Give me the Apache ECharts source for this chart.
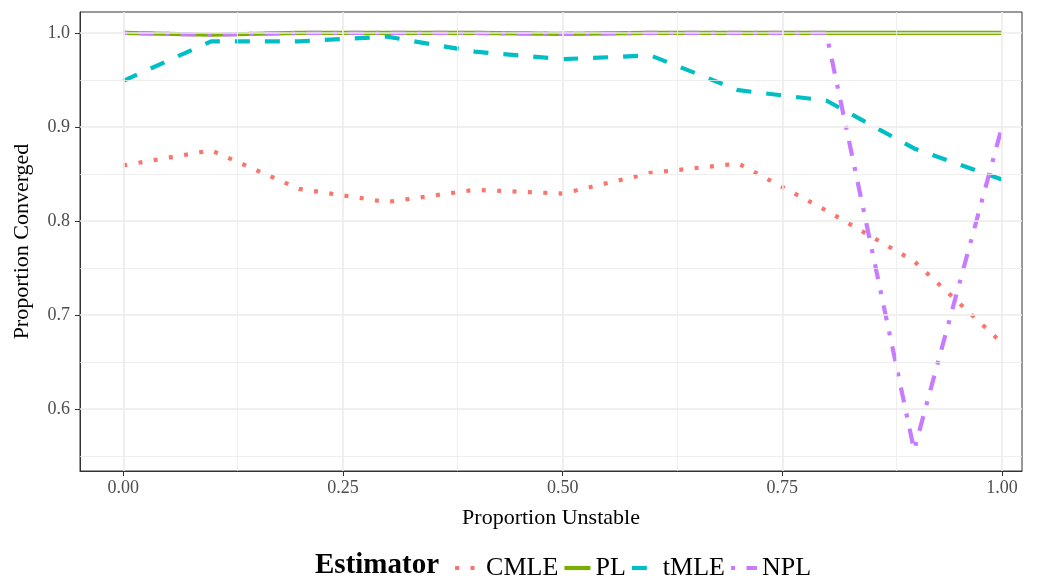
<!DOCTYPE html>
<html lang="en">
<head>
    <meta charset="UTF-8">
    <title>Proportion Converged</title>
    <script type="text/javascript" src="https://cdn.jsdelivr.net/npm/echarts@6/dist/echarts.min.js"></script>
    <style>
        html, body { margin: 0; padding: 0; background: #fff; }
        #chart { width: 1038px; height: 579px; }
    </style>
</head>
<body>
<div id="chart"></div>
<script>
    // x values (proportion unstable)
    var propUnstable = [0, 0.1, 0.2, 0.3, 0.4, 0.5, 0.6, 0.7, 0.8, 0.9, 1.0];
    // proportion converged per estimator
    var cmle = [0.859, 0.875, 0.834, 0.820, 0.833, 0.829, 0.851, 0.861, 0.811, 0.757, 0.670];
    var pl   = [1.000, 0.998, 1.000, 1.000, 1.000, 0.999, 1.000, 1.000, 1.000, 1.000, 1.000];
    var tmle = [0.949, 0.991, 0.991, 0.996, 0.980, 0.972, 0.976, 0.939, 0.928, 0.877, 0.844];
    var npl  = [1.000, 0.998, 1.000, 1.000, 1.000, 0.999, 1.000, 1.000, 1.000, 0.556, 0.900];

    var xTicks = [0, 0.25, 0.5, 0.75, 1];
    var xMinor = [0.125, 0.375, 0.625, 0.875];
    var yTicks = [0.6, 0.7, 0.8, 0.9, 1.0];
    var yMinor = [0.55, 0.65, 0.75, 0.85, 0.95];

    var FONT = '"Liberation Serif", "DejaVu Serif", serif';
    var LW = 4.2;

    function pairs(ys) {
        return propUnstable.map(function (x, i) { return [x, ys[i]]; });
    }

    function gridLines() {
        var d = [];
        xMinor.forEach(function (v) { d.push({xAxis: v, lineStyle: {width: 0.8}}); });
        yMinor.forEach(function (v) { d.push({yAxis: v, lineStyle: {width: 0.8}}); });
        xTicks.forEach(function (v) { d.push({xAxis: v, lineStyle: {width: 1.6}}); });
        yTicks.forEach(function (v) { d.push({yAxis: v, lineStyle: {width: 1.6}}); });
        return d;
    }

    var mychart = echarts.init(document.getElementById('chart'), null, {renderer: 'canvas'});
    var option = {
        animation: false,
        backgroundColor: '#ffffff',
        grid: {
            left: 80, right: 16, top: 12, bottom: 108,
            show: true, borderColor: '#333333', borderWidth: 1, backgroundColor: '#ffffff'
        },
        xAxis: {
            type: 'value',
            min: -0.0493,
            max: 1.0228,
            name: 'Proportion Unstable',
            nameLocation: 'middle',
            nameGap: 36,
            nameTextStyle: {fontFamily: FONT, fontSize: 22, color: '#000'},
            axisLine: {show: true, onZero: false, lineStyle: {color: '#333333', width: 1}},
            axisTick: {show: true, length: 5, customValues: xTicks, lineStyle: {color: '#333333'}},
            axisLabel: {
                customValues: xTicks,
                margin: 8,
                fontFamily: FONT, fontSize: 18, color: '#4d4d4d',
                formatter: function (v) { return v.toFixed(2); }
            },
            splitLine: {show: false}
        },
        yAxis: {
            type: 'value',
            min: 0.5338,
            max: 1.0222,
            name: 'Proportion Converged',
            nameLocation: 'middle',
            nameGap: 47,
            nameTextStyle: {fontFamily: FONT, fontSize: 22, color: '#000'},
            axisLine: {show: true, onZero: false, lineStyle: {color: '#333333', width: 1}},
            axisTick: {show: true, length: 5, customValues: yTicks, lineStyle: {color: '#333333'}},
            axisLabel: {
                customValues: yTicks,
                margin: 10,
                fontFamily: FONT, fontSize: 18, color: '#4d4d4d',
                formatter: function (v) { return v.toFixed(1); }
            },
            splitLine: {show: false}
        },
        legend: {
            data: ['CMLE', 'PL', 'tMLE', 'NPL'],
            left: 448,
            top: 550,
            itemWidth: 26,
            itemHeight: 14,
            itemGap: 4,
            itemStyle: {opacity: 0},
            lineStyle: {width: LW},
            textStyle: {fontFamily: FONT, fontSize: 26, color: '#000'},
            selectedMode: false
        },
        graphic: [{
            type: 'text',
            left: 315,
            top: 551,
            style: {text: 'Estimator', fontFamily: FONT, fontSize: 29, fontWeight: 'bold', fill: '#000'}
        }],
        series: [
            {
                name: 'gridlines',
                type: 'line',
                data: [],
                z: 0,
                silent: true,
                markLine: {
                    silent: true,
                    symbol: 'none',
                    label: {show: false},
                    lineStyle: {color: '#ebebeb', type: 'solid'},
                    emphasis: {disabled: true},
                    data: gridLines()
                }
            },
            {
                name: 'CMLE', type: 'line', data: pairs(cmle), symbol: 'none', z: 2,
                lineStyle: {color: '#F8766D', width: LW, type: [4, 11.4]},
                itemStyle: {color: '#F8766D'}
            },
            {
                name: 'PL', type: 'line', data: pairs(pl), symbol: 'none', z: 2,
                lineStyle: {color: '#7CAE00', width: LW, type: 'solid'},
                itemStyle: {color: '#7CAE00'}
            },
            {
                name: 'tMLE', type: 'line', data: pairs(tmle), symbol: 'none', z: 2,
                lineStyle: {color: '#00BFC4', width: LW, type: [15, 15]},
                itemStyle: {color: '#00BFC4'}
            },
            {
                name: 'NPL', type: 'line', data: pairs(npl), symbol: 'none', z: 2,
                lineStyle: {color: '#C77CFF', width: LW, type: [4, 11.4, 15.2, 11.4]},
                itemStyle: {color: '#C77CFF'}
            }
        ]
    };
    mychart.setOption(option);
</script>
</body>
</html>
